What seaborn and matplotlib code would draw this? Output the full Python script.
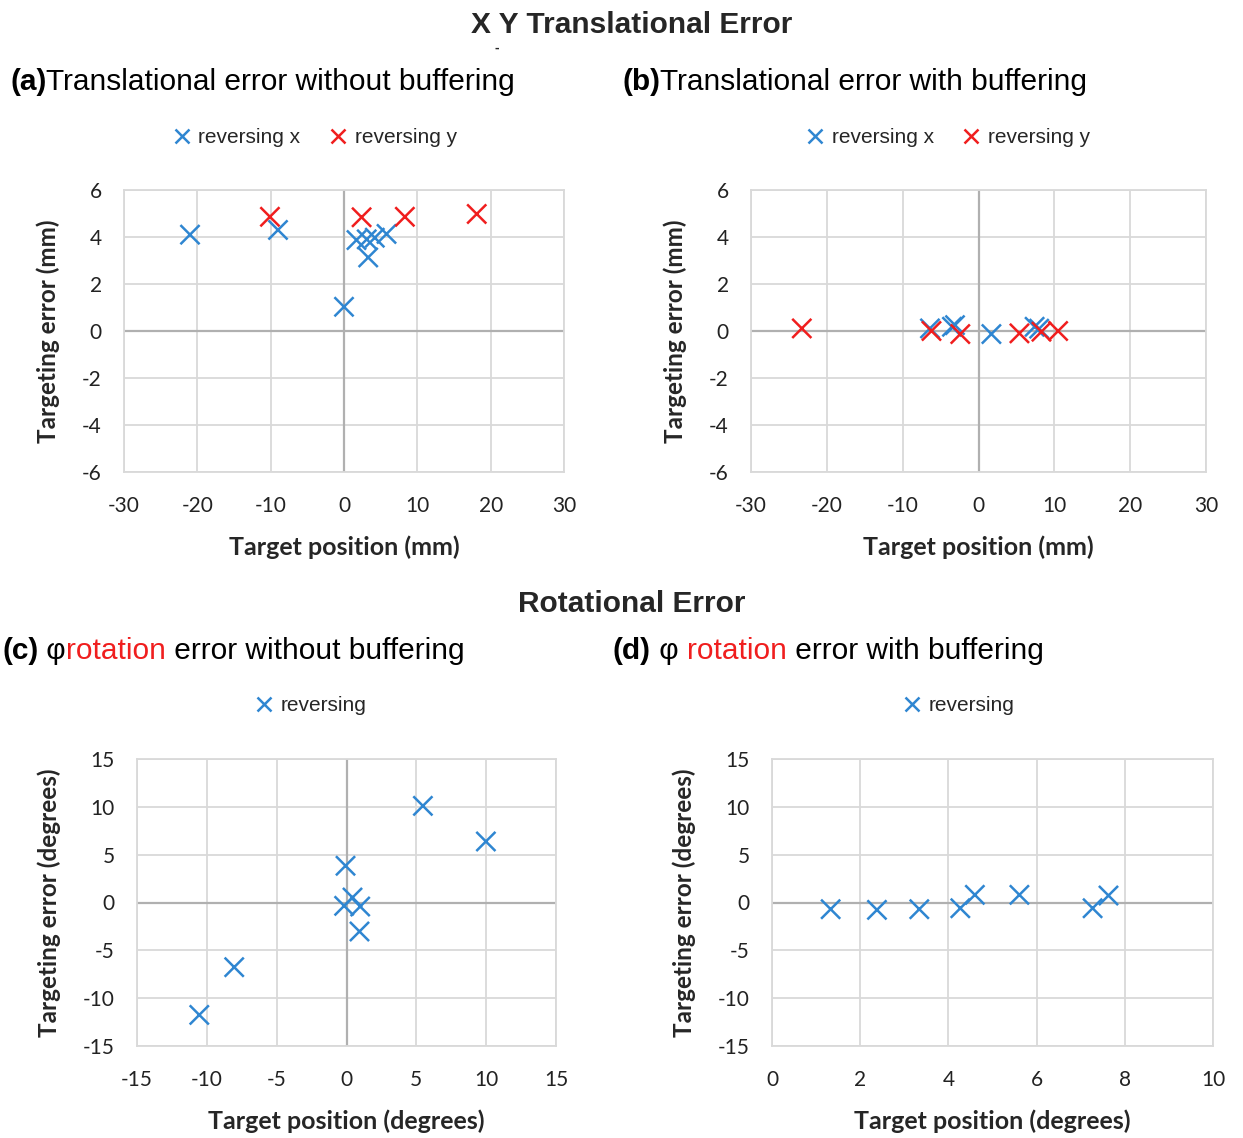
import matplotlib
matplotlib.use("Agg")
import matplotlib.pyplot as plt
import seaborn as sns
import pandas as pd

# panel (a): translational error without buffering
a_revx_pos = [-21.0, -9.0, 1.7, 3.1, 4.2, 5.8, 3.3, 0.0]
a_revx_err = [4.1, 4.3, 3.87, 3.9, 3.97, 4.13, 3.13, 1.03]
a_revy_pos = [-10.1, 2.4, 8.3, 18.1]
a_revy_err = [4.86, 4.84, 4.86, 4.98]

# panel (b): translational error with buffering
b_revx_pos = [-6.4, -3.5, -3.1, 1.7, 7.4, 8.0]
b_revx_err = [0.11, 0.18, 0.25, -0.13, 0.18, 0.1]
b_revy_pos = [-23.3, -6.2, -2.4, 5.4, 8.3, 10.5]
b_revy_err = [0.11, 0.0, -0.13, -0.1, -0.03, 0.0]

# panel (c): rotation error without buffering
c_pos = [5.47, 9.98, -0.07, -0.17, 0.43, 0.98, 0.93, -8.04, -10.54]
c_err = [10.1, 6.38, 3.84, -0.35, 0.52, -0.42, -3.03, -6.76, -11.75]

# panel (d): rotation error with buffering
d_pos = [1.33, 2.38, 3.34, 4.27, 4.60, 5.61, 7.27, 7.63]
d_err = [-0.7, -0.77, -0.7, -0.6, 0.8, 0.8, -0.6, 0.73]

BLUE = "#2f86d1"
RED = "#f01e1e"

sns.set_theme(style="white")
plt.rcParams["font.family"] = ["Lato", "DejaVu Sans"]
plt.rcParams["axes.unicode_minus"] = False

fig = plt.figure(figsize=(12.43, 11.38), dpi=100)
W, H = 1243, 1138


def ax_at(left, top, right, bottom):
    return fig.add_axes([left / W, 1 - bottom / H, (right - left) / W, (bottom - top) / H])


def style(ax, xlim, xticks, ylim, yticks, xlabel, ylabel):
    ax.set_xlim(xlim)
    ax.set_ylim(ylim)
    ax.set_xticks(xticks)
    ax.set_yticks(yticks)
    ax.grid(True, color="#d9d9d9", lw=1.3)
    ax.axhline(0, color="#b0b0b0", lw=1.6, zorder=1)
    if xlim[0] < 0:
        ax.axvline(0, color="#b0b0b0", lw=1.6, zorder=1)
    for s in ax.spines.values():
        s.set_color("#d9d9d9")
        s.set_linewidth(1.3)
    ax.tick_params(length=0, labelsize=15, colors="#222222")
    ax.tick_params(axis="x", pad=17)
    ax.tick_params(axis="y", pad=16)
    ax.set_xlabel(xlabel, fontsize=18, fontweight="bold", labelpad=14)
    ax.set_ylabel(ylabel, fontsize=17.5, fontweight="bold", labelpad=16)


def scatter(ax, series):
    rows = []
    for name, xs, ys in series:
        rows += [{"pos": x, "err": y, "series": name} for x, y in zip(xs, ys)]
    df = pd.DataFrame(rows)
    names = [s[0] for s in series]
    pal = {"reversing x": BLUE, "reversing y": RED, "reversing": BLUE}
    sns.scatterplot(data=df, x="pos", y="err", hue="series", hue_order=names,
                    palette=pal, marker="x", s=190, linewidth=1.8, ax=ax, zorder=3)


def legend(ax, xc):
    h, l = ax.get_legend_handles_labels()
    ax.legend(h, l, loc="center", bbox_to_anchor=(xc, 1.185), ncol=len(l), frameon=False,
              handletextpad=-0.2, columnspacing=0.8, markerscale=0.75,
              prop={"family": "Liberation Sans", "size": 15})


ax_a = ax_at(124, 190, 564, 472)
scatter(ax_a, [("reversing x", a_revx_pos, a_revx_err), ("reversing y", a_revy_pos, a_revy_err)])
style(ax_a, (-30, 30), range(-30, 31, 10), (-6, 6), range(-6, 7, 2),
      "Target position (mm)", "Targeting error (mm)")
legend(ax_a, 0.42)

ax_b = ax_at(751, 190, 1206, 472)
scatter(ax_b, [("reversing x", b_revx_pos, b_revx_err), ("reversing y", b_revy_pos, b_revy_err)])
style(ax_b, (-30, 30), range(-30, 31, 10), (-6, 6), range(-6, 7, 2),
      "Target position (mm)", "Targeting error (mm)")
legend(ax_b, 0.42)

ax_c = ax_at(137, 759, 556, 1046)
scatter(ax_c, [("reversing", c_pos, c_err)])
style(ax_c, (-15, 15), range(-15, 16, 5), (-15, 15), range(-15, 16, 5),
      "Target position (degrees)", "Targeting error (degrees)")
legend(ax_c, 0.40)

ax_d = ax_at(772, 759, 1213, 1046)
scatter(ax_d, [("reversing", d_pos, d_err)])
style(ax_d, (0, 10), range(0, 11, 2), (-15, 15), range(-15, 16, 5),
      "Target position (degrees)", "Targeting error (degrees)")
legend(ax_d, 0.41)

# titles
TF = "Liberation Sans"
fig.text(632 / W, 1 - 25 / H, "X Y Translational Error", ha="center", va="center",
         fontsize=21.5, fontweight="bold", family=TF)
fig.text(497 / W, 1 - 48 / H, "-", ha="center", va="center", fontsize=10,
         fontweight="bold", family=TF)
fig.text(632 / W, 1 - 604 / H, "Rotational Error", ha="center", va="center",
         fontsize=21.5, fontweight="bold", family=TF)

renderer = fig.canvas.get_renderer()


def chain(x0, y0, pieces):
    x = x0
    for txt, weight, color in pieces:
        t = fig.text(x / W, 1 - y0 / H, txt, ha="left", va="center", fontsize=21.5,
                     fontweight=weight, color=color, family=TF)
        bb = t.get_window_extent(renderer=renderer)
        x += bb.width


chain(10, 82, [("(a)", "bold", "black"), ("Translational error without buffering", "normal", "black")])
chain(622, 82, [("(b)", "bold", "black"), ("Translational error with buffering", "normal", "black")])
chain(2, 651, [("(c)", "bold", "black"), (" φ", "normal", "black"),
               ("rotation", "normal", RED), (" error without buffering", "normal", "black")])
chain(613, 651, [("(d)", "bold", "black"), (" φ ", "normal", "black"),
                 ("rotation", "normal", RED), (" error with buffering", "normal", "black")])

fig.savefig("out.png", dpi=100)
